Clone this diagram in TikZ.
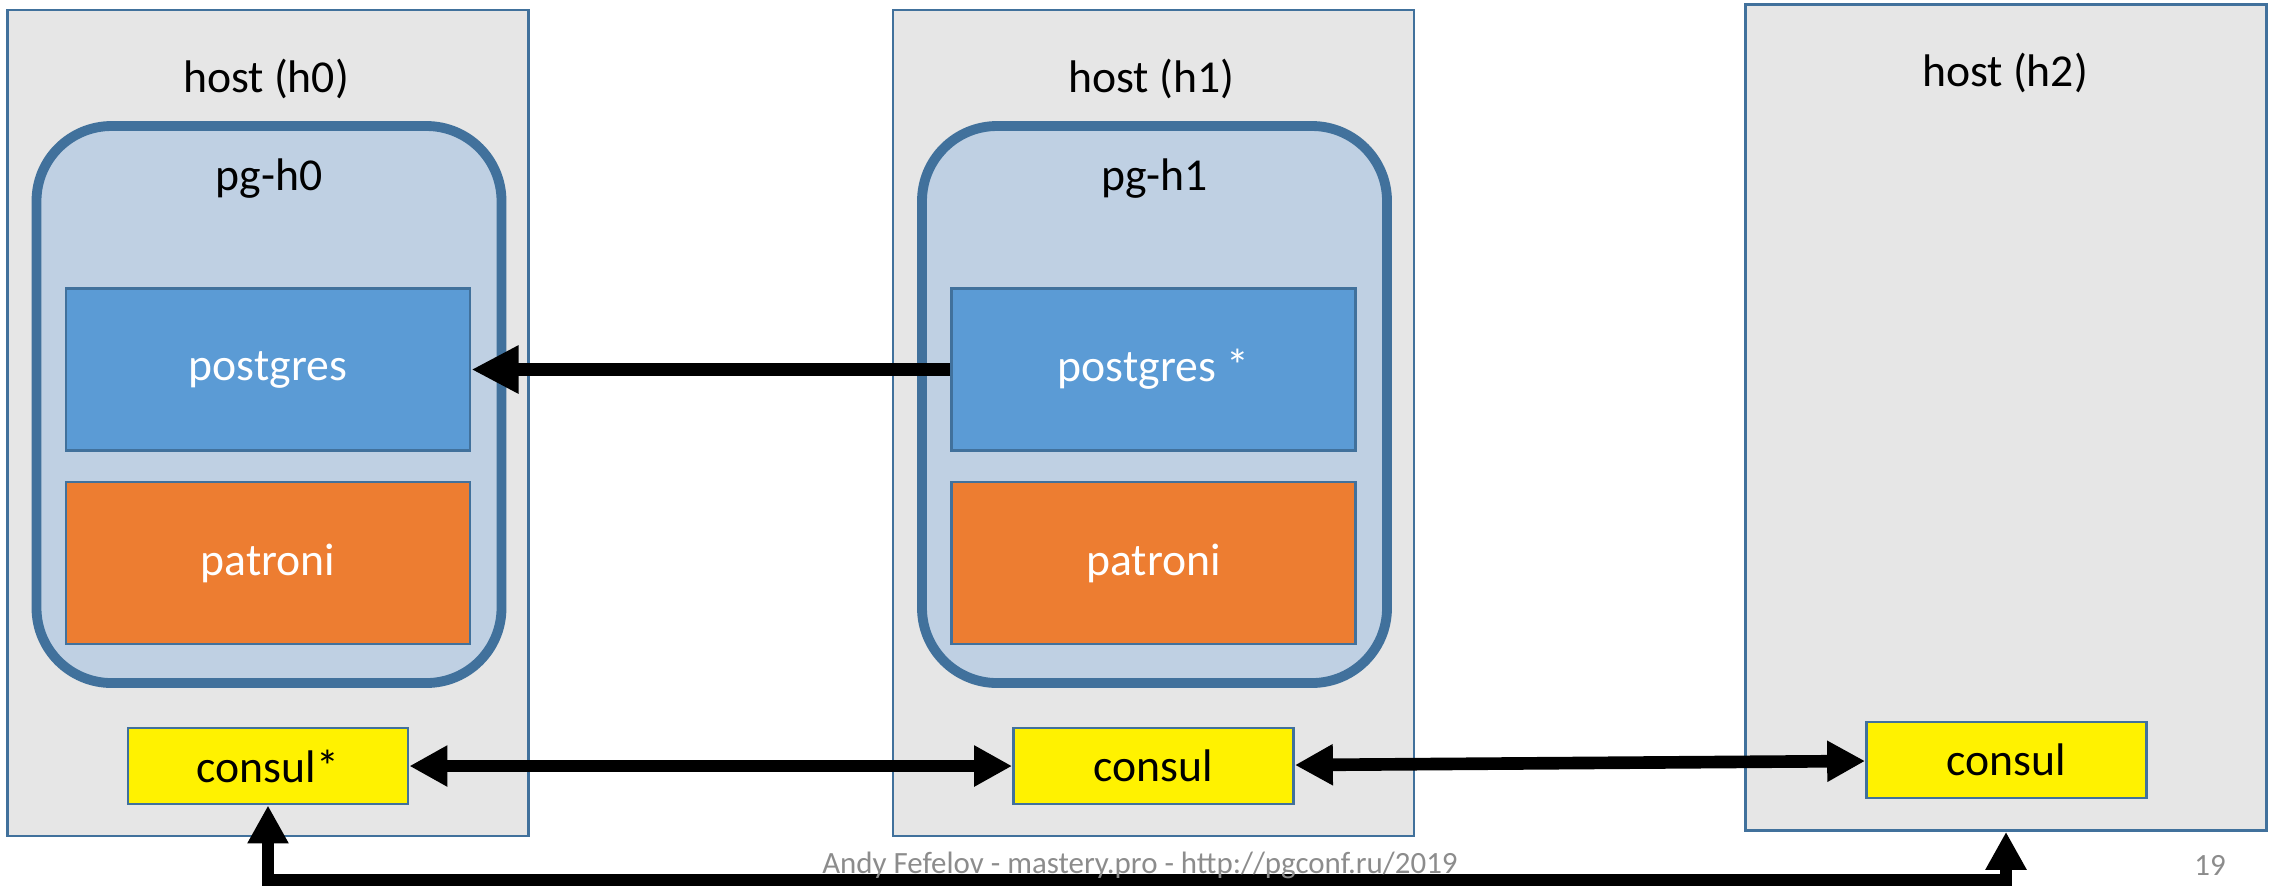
\documentclass[tikz,border=0pt]{standalone}
\usepackage{fontspec}
\setmainfont{Carlito}
\usetikzlibrary{arrows.meta}

\definecolor{hostfill}{HTML}{E6E6E6}
\definecolor{frame}{HTML}{41719C}
\definecolor{podfill}{HTML}{BFD0E3}
\definecolor{pgblue}{HTML}{5B9BD5}
\definecolor{patorange}{HTML}{ED7D31}
\definecolor{footgray}{HTML}{8C8C8C}

\tikzset{
  host/.style={draw=frame, line width=0.7pt, fill=hostfill, minimum width=5.21cm, minimum height=8.26cm, inner sep=0pt},
  pod/.style={draw=frame, line width=2.8pt, fill=podfill, rounded corners=0.75cm, minimum width=4.65cm, minimum height=5.57cm, inner sep=0pt},
  service/.style={draw=frame, line width=0.8pt, minimum width=4.04cm, minimum height=1.62cm, text=white, inner sep=0pt},
  agent/.style={draw=frame, line width=0.8pt, fill=yellow, minimum width=2.8cm, minimum height=0.76cm, inner sep=0pt},
  link/.style={line width=3.6pt, {Triangle[length=10.8pt,width=11pt]}-{Triangle[length=10.8pt,width=11pt]}},
  repl/.style={line width=3.8pt, -{Triangle[length=13.4pt,width=12.8pt]}},
  foot/.style={text=footgray, font=\fontsize{8.8}{10}\selectfont},
}

\begin{document}
\begin{tikzpicture}[font=\fontsize{13}{16}\selectfont]
  \useasboundingbox (0,0) rectangle (22.72,-8.85); % slide margins
  \foreach \h/\x/\pgtext/\cstext in {0/0/postgres/consul*, 1/8.855/postgres */consul} {
    \node[host] (host\h) at ({2.68+\x},-4.23) {};
    \node (hlbl\h) at ({2.66+\x},-0.79) {host (h\h)};
    \node[pod] (pod\h) at ({2.69+\x},-4.045) {};
    \node (plbl\h) at ({2.69+\x},-1.79) {pg-h\h};
    \node[service, fill=pgblue] (pgs\h) at ({2.68+\x},-3.695) {\pgtext};
    \node[service, fill=patorange] (pat\h) at ({2.68+\x},-5.63) {patroni};
    \node[agent] (cns\h) at ({2.68+\x},-7.66) {\cstext};
  }

  % third host, consul only
  \node[host] (host2) at (20.06,-4.176) {};
  \node (hlbl2) at (20.05,-0.73) {host (h2)};
  \node[agent] (cns2) at (20.065,-7.6) {consul};

  \draw[repl] (pgs1.west) -- (pgs0.east);
  \draw[link] (cns0) -- (cns1);
  \draw[link] (cns1) -- (cns2);
  \draw[link] (cns0.south) -- ++(0,-0.745) -| (host2.south);

  \node[foot] (footer) at (11.4,-8.655) {Andy Fefelov - mastery.pro - http://pgconf.ru/2019};
  \node[foot] (pagenum) at (22.1,-8.655) {19};
\end{tikzpicture}
\end{document}
